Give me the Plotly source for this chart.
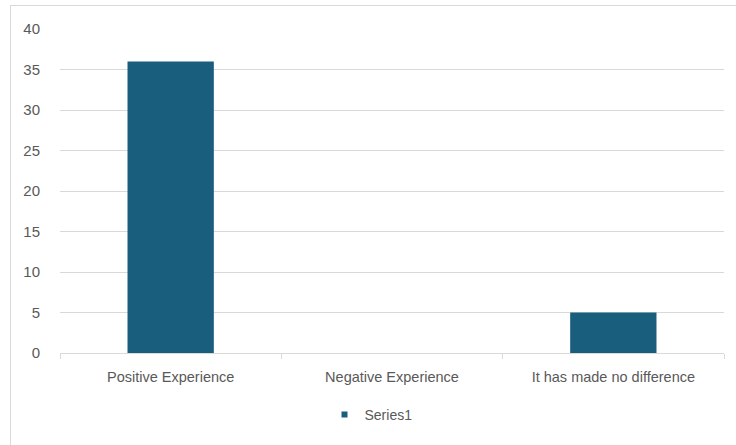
import plotly.graph_objects as go

categories = ["Positive Experience", "Negative Experience", "It has made no difference"]
values = [36, 0, 5]
y_ticks = [0, 5, 10, 15, 20, 25, 30, 35, 40]

W, H = 736, 445
ml, mr, mt, mb = 60, 12, 29, 92
pw, ph = W - ml - mr, H - mt - mb

def px_x(p):
    return (p - ml) / pw

def px_y(p):
    return 1 - (p - mt) / ph

bar_color = "#1a5e7e"
fig = go.Figure()
fig.add_trace(go.Bar(
    x=categories, y=values, name="Series1",
    marker=dict(color=bar_color, line=dict(width=0)),
    showlegend=False,
))
# legend entry with a small square swatch like the reference
fig.add_trace(go.Scatter(
    x=[None], y=[None], mode="markers", name="Series1",
    marker=dict(symbol="square", size=6, color=bar_color),
    showlegend=True,
))

font_fam = "Liberation Sans Narrow, Liberation Sans, Arial, sans-serif"
fig.update_layout(
    width=W, height=H,
    margin=dict(l=ml, r=mr, t=mt, b=mb),
    paper_bgcolor="white", plot_bgcolor="white",
    bargap=0.61,
    font=dict(family=font_fam, color="#595959", size=13),
    showlegend=True,
    legend=dict(orientation="h", x=px_x(371), xanchor="center", y=px_y(415), yanchor="middle",
                font=dict(size=14, color="#595959"), itemwidth=30),
    xaxis=dict(showgrid=False, showline=True, linecolor="#d9d9d9", linewidth=1,
               ticks="outside", tickson="boundaries", ticklen=5, tickcolor="#d9d9d9",
               tickfont=dict(size=14.5, color="#595959"), ticklabelstandoff=11),
    yaxis=dict(range=[0, 40], tickvals=y_ticks, showgrid=True, gridcolor="#d9d9d9",
               gridwidth=1, zeroline=False, showline=False,
               tickfont=dict(size=15, color="#595959"), ticklabelstandoff=19),
    shapes=[
        dict(type="line", xref="paper", yref="paper", x0=px_x(10), x1=px_x(740),
             y0=px_y(5.5), y1=px_y(5.5), line=dict(color="#d9d9d9", width=1)),
        dict(type="line", xref="paper", yref="paper", x0=px_x(10.5), x1=px_x(10.5),
             y0=px_y(5.5), y1=px_y(450), line=dict(color="#d9d9d9", width=1)),
    ],
)

fig.write_html("out.html")
